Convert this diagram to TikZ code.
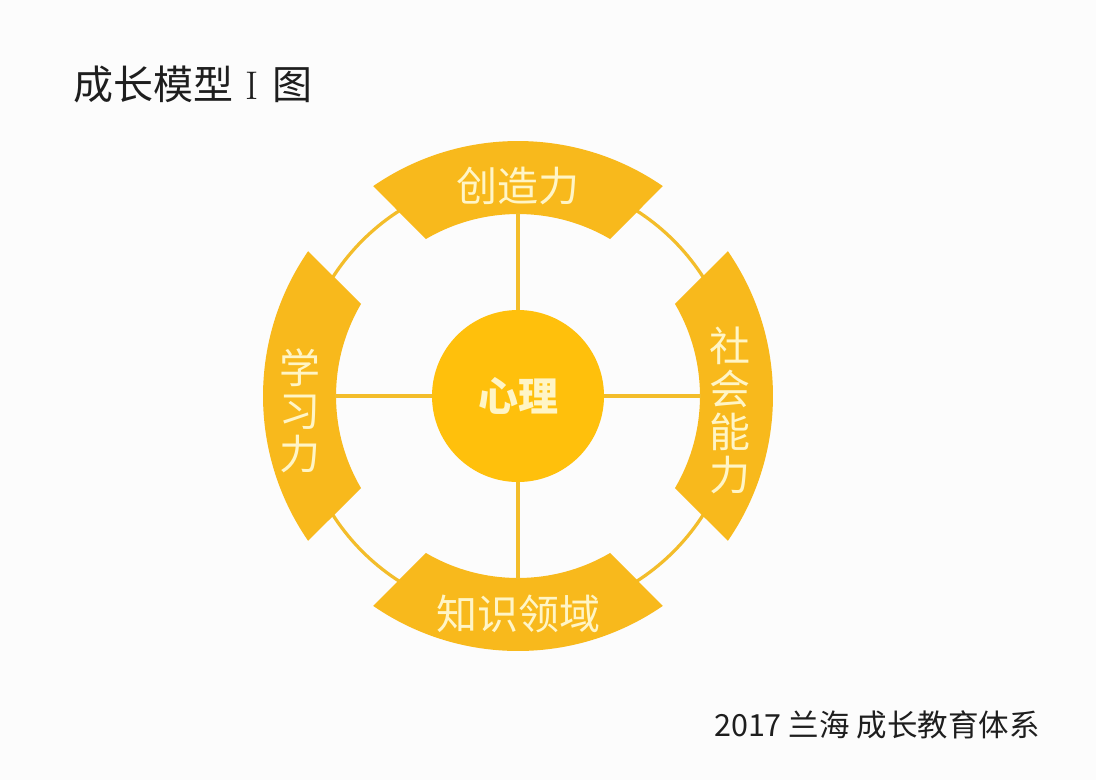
\documentclass[tikz,border=0pt]{standalone}
\usepackage{fontspec}
\newfontfamily\cjk{Noto Sans CJK SC}
\definecolor{bgc}{HTML}{FCFCFC}
\definecolor{bandc}{HTML}{F8B91C}
\definecolor{corec}{HTML}{FFC00C}
\definecolor{linec}{HTML}{F3BD2A}
\definecolor{txtc}{HTML}{FFF5C6}
\definecolor{darkc}{HTML}{1E1E1E}
\tikzset{
  ringline/.style={draw=linec, line width=3.2pt},
  spoke/.style={draw=linec, line width=3.4pt},
  bandfill/.style={fill=bandc},
  corenode/.style={circle, fill=corec, minimum size=172pt, inner sep=0pt, text=txtc, font=\cjk\bfseries\fontsize{40}{40}\selectfont},
  bandtext/.style={text=txtc, inner sep=0pt, font=\cjk\fontsize{41}{41}\selectfont},
  vbandtext/.style={text=txtc, inner sep=0pt, align=center, font=\cjk\fontsize{41}{43}\selectfont},
}
\begin{document}
\begin{tikzpicture}[x=1pt,y=-1pt]
\fill[bgc] (0,0) rectangle (1096,780);
\useasboundingbox (0,0) rectangle (1096,780);
\coordinate (C) at (518,396);
\begin{scope}[shift={(C)}]
  \draw[ringline] (0,0) circle[radius=220];
  \foreach \a in {0,90,180,270}{
    \fill[bandfill, rotate=\a] (55.4:255) arc[start angle=55.4,end angle=124.6,radius=255]
      -- (120.4:182) arc[start angle=120.4,end angle=59.6,radius=182] -- cycle;
  }
  \coordinate (inT) at (0,-183);
  \coordinate (inB) at (0,183);
  \coordinate (inL) at (-183,0);
  \coordinate (inR) at (183,0);
\end{scope}
\node[corenode] (core) at (C) {心理};
\draw[spoke] (core.north) -- (inT);
\draw[spoke] (core.south) -- (inB);
\draw[spoke] (core.west) -- (inL);
\draw[spoke] (core.east) -- (inR);
\node[bandtext] (cre) at (518,186) {创造力};
\node[bandtext] (kno) at (518,614) {知识领域};
\node[vbandtext] (lea) at (300,411) {学\\习\\力};
\node[vbandtext] (soc) at (730,410) {社\\会\\能\\力};
\node[anchor=west, inner sep=0pt, text=darkc, font=\cjk\fontsize{40}{40}\selectfont] (title) at (73,84) {成长模型\hspace{12pt}{\rmfamily I}\hspace{14pt}图};
\node[anchor=west, inner sep=0pt, text=darkc, font=\cjk\fontsize{30.5}{30.5}\selectfont] (foot) at (714,725) {2017 兰海 成长教育体系};
\end{tikzpicture}
\end{document}
